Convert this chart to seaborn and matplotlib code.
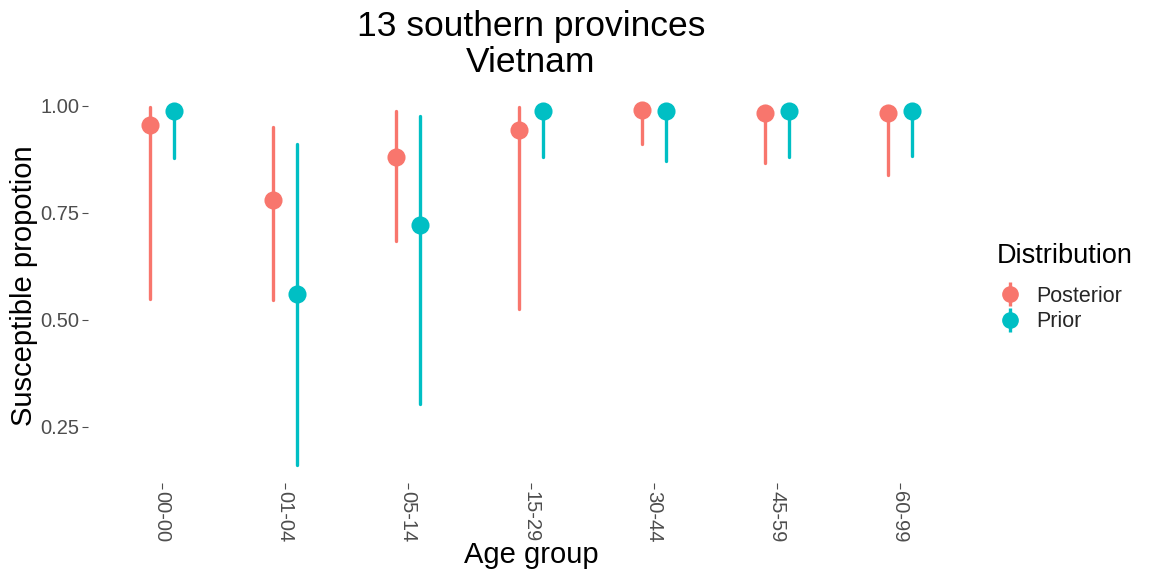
import matplotlib
matplotlib.use("Agg")
import matplotlib.pyplot as plt
from matplotlib.lines import Line2D
from matplotlib.legend_handler import HandlerTuple
import seaborn as sns
import pandas as pd

age_groups = ["00-00", "01-04", "05-14", "15-29", "30-44", "45-59", "60-99"]
distributions = ["Posterior", "Prior"]

post_mid = [0.956, 0.780, 0.881, 0.944, 0.991, 0.984, 0.984]
post_lo = [0.549, 0.547, 0.685, 0.526, 0.911, 0.867, 0.839]
post_hi = [0.998, 0.951, 0.988, 0.998, 0.999, 0.999, 0.999]

prior_mid = [0.988, 0.561, 0.722, 0.988, 0.988, 0.988, 0.988]
prior_lo = [0.879, 0.161, 0.304, 0.881, 0.871, 0.881, 0.883]
prior_hi = [0.999, 0.911, 0.977, 0.999, 0.999, 0.999, 0.999]

colors = {"Posterior": "#F8766D", "Prior": "#00BFC4"}

rows = []
for dist, lo, mid, hi in [("Posterior", post_lo, post_mid, post_hi),
                          ("Prior", prior_lo, prior_mid, prior_hi)]:
    for g, a, m, b in zip(age_groups, lo, mid, hi):
        for v in (a, m, b):
            rows.append({"Age group": g, "value": v, "Distribution": dist})
df = pd.DataFrame(rows)

sns.set_theme(style="white")
plt.rcParams["font.family"] = ["Liberation Sans", "DejaVu Sans"]

fig, ax = plt.subplots(figsize=(11.51, 5.73), dpi=100)
fig.subplots_adjust(left=0.0765, right=0.846, top=0.845, bottom=0.157)

sns.pointplot(data=df, x="Age group", y="value", hue="Distribution",
              order=age_groups, hue_order=distributions, palette=colors,
              estimator="median", errorbar=("pi", 100), dodge=0.195,
              linestyle="none", markers="o", markersize=11, err_kws={"linewidth": 2.4},
              ax=ax, legend=False)

ax.set_xlim(-0.6, 6.6)
ax.set_ylim(0.119, 1.04)
ax.set_yticks([0.25, 0.50, 0.75, 1.00])
ax.set_yticklabels(["0.25", "0.50", "0.75", "1.00"])
for s in ax.spines.values():
    s.set_visible(False)
ax.grid(False)
ax.tick_params(axis="both", length=4, width=0.8, color="#4d4d4d", labelsize=14.5,
               labelcolor="#4d4d4d", pad=2, left=True, bottom=True)
plt.setp(ax.get_xticklabels(), rotation=-90, va="top", ha="center")

ax.set_xlabel("Age group", fontsize=21, color="black", labelpad=-1)
ax.set_ylabel("Susceptible propotion", fontsize=21, color="black", labelpad=2)
ax.set_title("13 southern provinces\nVietnam", fontsize=25.5, color="black",
             linespacing=1.12, pad=12)

fig.text(997 / 1151, 1 - 256 / 573, "Distribution", fontsize=19.5, color="black",
         ha="left", va="center")

handles = []
for d in distributions:
    c = colors[d]
    handles.append((Line2D([], [], color=c, marker="|", linestyle="none",
                           markersize=17, markeredgewidth=2.4),
                    Line2D([], [], color=c, marker="o", linestyle="none",
                           markersize=11)))
leg = fig.legend(handles, distributions,
                 handler_map={tuple: HandlerTuple(ndivide=1, pad=0)},
                 loc="center left", bbox_to_anchor=(978 / 1151, 1 - 309 / 573),
                 frameon=False, fontsize=15.5,
                 handlelength=1.2, handletextpad=0.6, labelspacing=0.2)

fig.savefig("out.png", dpi=100, facecolor="white")
